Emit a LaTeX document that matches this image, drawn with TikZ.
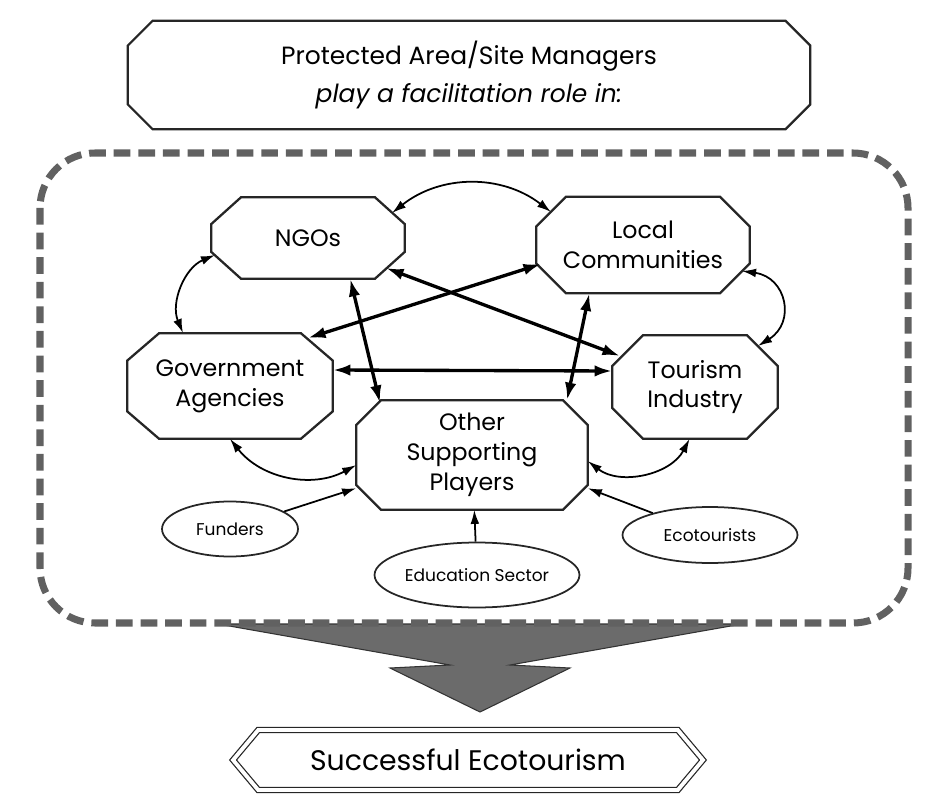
\documentclass[tikz,border=0pt]{standalone}
\usepackage{fontspec}
\setmainfont{Poppins}
\usetikzlibrary{arrows,arrows.meta,shapes,calc}

% octagon outline round a named node: node, x chamfer, y chamfer
\newcommand{\octframe}[3]{%
  \draw[octline] ([xshift=#2]#1.north west) -- ([xshift=-#2]#1.north east) -- ([yshift=-#3]#1.north east)
    -- ([yshift=#3]#1.south east) -- ([xshift=-#2]#1.south east) -- ([xshift=#2]#1.south west)
    -- ([yshift=#3]#1.south west) -- ([yshift=-#3]#1.north west) -- cycle;}

\begin{document}
\begin{tikzpicture}[x=0.02cm, y=-0.02cm]
\tikzstyle{octa}=[rectangle, inner sep=0pt, align=center, font=\fontsize{13.5}{17}\selectfont]
\tikzstyle{octline}=[draw=black!85, line width=1.3pt, line join=miter]
\tikzstyle{topbox}=[octa, minimum width=13.64cm, minimum height=2.16cm, font=\fontsize{14.2}{22}\selectfont]
\tikzstyle{oval}=[ellipse, draw=black!85, line width=1pt, inner sep=0pt, font=\fontsize{9.7}{11}\selectfont]
\tikzstyle{goalbox}=[signal, signal to=west and east, signal pointer angle=100, draw=black!85, line width=0.7pt, double, double distance=2.2pt, inner sep=0pt, font=\fontsize{16.1}{20}\selectfont]
\tikzstyle{link}=[{Latex[length=8pt,width=5pt]}-{Latex[length=8pt,width=5pt]}, line width=1pt]
\tikzstyle{strong}=[{Latex[length=10pt,width=6.5pt]}-{Latex[length=10pt,width=6.5pt]}, line width=1.9pt]
\tikzstyle{feed}=[-{Latex[length=8pt,width=5pt]}, line width=1pt]
\tikzstyle{frame}=[draw=black!62, line width=4pt, dash pattern=on 9.5pt off 4.5pt, rounded corners=1.1cm]
\tikzstyle{bigarrow}=[fill=black!58, draw=black!80, line width=0.6pt]

\useasboundingbox (0,0) rectangle (925,803);

  % managers and the frame they facilitate
  \node[topbox] (mgr) at (469,75) {Protected Area/Site Managers\\\textit{play a facilitation role in:}};
  \octframe{mgr}{0.5cm}{0.5cm}

  \fill[bigarrow] (218,624) -- (450,665) -- (390,668) -- (480,712) -- (570,668) -- (510,665) -- (742,624) -- cycle;
  \draw[frame] (40,153) rectangle (908,623);

  % stakeholders
  \node[octa, minimum width=3.86cm, minimum height=1.62cm] (ngo)  at (308,238) {NGOs};
  \node[octa, minimum width=4.26cm, minimum height=1.92cm] (loc)  at (643,245) {Local\\Communities};
  \node[octa, minimum width=4.10cm, minimum height=2.10cm] (gov)  at (230,386) {Government\\Agencies};
  \node[octa, minimum width=3.30cm, minimum height=2.06cm] (tour) at (695,387) {Tourism\\Industry};
  \node[octa, minimum width=4.62cm, minimum height=2.18cm] (osp)  at (472,455) {Other\\Supporting\\Players};
  \octframe{ngo}{0.6cm}{0.54cm}
  \octframe{loc}{0.6cm}{0.6cm}
  \octframe{gov}{0.64cm}{0.55cm}
  \octframe{tour}{0.62cm}{0.62cm}
  \octframe{osp}{0.5cm}{0.5cm}

  \node[oval, minimum width=2.72cm, minimum height=1.10cm] (fund) at (230,529) {Funders};
  \node[oval, minimum width=4.10cm, minimum height=1.30cm] (edu)  at (477,575) {Education Sector};
  \node[oval, minimum width=3.50cm, minimum height=1.12cm] (eco)  at (710,535) {Ecotourists};

  \node[goalbox, minimum width=9.4cm, minimum height=1.2cm] (goal) at (468,760) {Successful Ecotourism};

  % curved links around the ring
  \path ([shift={(84,-25)}]ngo.center)  edge [link, bend left=38]  ([shift={(-92,-33)}]loc.center);
  \path ([shift={(-93,17)}]ngo.center)  edge [link, bend right=45] ([shift={(-47,-53)}]gov.center);
  \path ([shift={(99,26)}]loc.center)   edge [link, bend left=70, looseness=1.5] ([shift={(63,-41)}]tour.center);
  \path (gov.south) edge [link, bend right=40] (osp.185);
  \path (osp.357)   edge [link, bend right=50] (tour.264);

  % cross links
  \path ([shift={(78,30)}]ngo.center)   edge [strong] ([shift={(-75,-31)}]tour.center);
  \path ([shift={(-102,19)}]loc.center) edge [strong] ([shift={(78,-48)}]gov.center);
  \path ([yshift=0.32cm]gov.east)       edge [strong] ([yshift=0.32cm]tour.west);
  \path (ngo.316) edge [strong] ([shift={(-92,-52)}]osp.center);
  \path (loc.222) edge [strong] (osp.30);

  % feeders
  \path (fund) edge [feed] (osp.196);
  \path (edu)  edge [feed] (osp);
  \path (eco)  edge [feed] (osp.344);

\end{tikzpicture}
\end{document}
